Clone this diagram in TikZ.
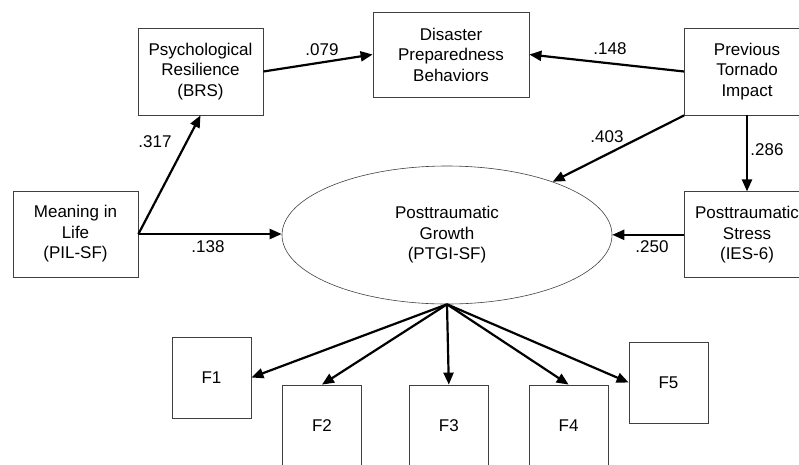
\documentclass[tikz,border=0pt]{standalone}
\usepackage{fontspec}
\setmainfont{Liberation Sans}
\usetikzlibrary{
  arrows.meta,
  positioning,
  shapes.geometric
}

\begin{document}
\begin{tikzpicture}[
  x=1pt, y=-1pt,
  every node/.style={font=\fontsize{17}{20.5}\selectfont},
  box/.style={draw=black!75, line width=0.8pt, align=center, minimum width=125pt, minimum height=87pt, inner sep=1pt},
  fbox/.style={draw=black!75, line width=0.8pt, minimum width=79pt, minimum height=81pt},
  lat/.style={draw=black!75, line width=0.6pt, ellipse, align=center, minimum width=330pt, minimum height=138pt, inner sep=0pt},
  ar/.style={-{Triangle[length=12pt,width=10pt]}, line width=2.2pt},
  lbl/.style={inner sep=0pt}
]
  \clip (0,0) rectangle (799,464);

  % top row
  \node[box] (psr) at (200.5,71.5) {Psychological\\Resilience\\(BRS)};
  \node[box, minimum width=156pt, minimum height=85pt] (dpb) at (451,54.5) {Disaster\\Preparedness\\Behaviors};
  \node[box] (pti) at (747,71.5) {Previous\\Tornado\\Impact};

  % middle row
  \node[box, minimum height=86pt] (mil) at (75.5,234) {Meaning in\\Life\\(PIL-SF)};
  \node[lat] (ptg) at (447,235) {Posttraumatic\\Growth\\(PTGI-SF)};
  \node[box, minimum height=86pt, below=76pt of pti] (pts) {Posttraumatic\\Stress\\(IES-6)};

  % factors
  \node[fbox] (f1) at (211.5,377.5) {F1};
  \node[fbox] (f2) at (322,425.5) {F2};
  \node[fbox, right=47pt of f2] (f3) {F3};
  \node[fbox, right=40pt of f3] (f4) {F4};
  \node[fbox] (f5) at (668.5,382.5) {F5};

  % paths
  \draw[ar] (psr.east) -- (dpb.west);
  \draw[ar] (pti.west) -- (dpb.east);
  \draw[ar] (mil.east) -- (psr.south);
  \draw[ar] (mil.east) -- (mil.east -| ptg.west);
  \draw[ar] (pti.south west) -- (ptg);
  \draw[ar] (pti) -- (pts);
  \draw[ar] (pts.west) -- (pts.west -| ptg.east);

  \foreach \f/\a in {f1/east, f2/north, f3/north, f4/north, f5/west}
    \draw[ar] (ptg.south) -- (\f.\a);

  % coefficients
  \node[lbl] (c079) at (322,50) {.079};
  \node[lbl] (c148) at (610,49) {.148};
  \node[lbl] (c317) at (155,142) {.317};
  \node[lbl] (c138) at (208,247) {.138};
  \node[lbl] (c403) at (607,137) {.403};
  \node[lbl] (c286) at (767,150) {.286};
  \node[lbl] (c250) at (652,247) {.250};

\end{tikzpicture}
\end{document}
